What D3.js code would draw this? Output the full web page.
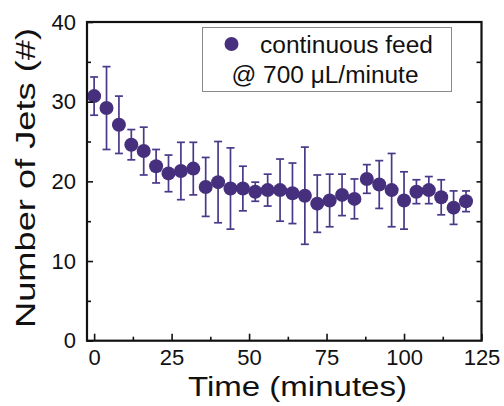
<!DOCTYPE html>
<html>
<head>
<meta charset="utf-8">
<script src="https://cdn.jsdelivr.net/npm/d3@7"></script>
<style>
  body { margin: 0; background: #fff; }
  text { font-family: "Liberation Sans", Arial, sans-serif; fill: #111; }
</style>
</head>
<body>
<svg width="504" height="406"></svg>
<script>
let svg = d3.select("svg")

// time in minutes
let times = [0, 4, 8, 12, 16, 20, 24, 28, 32, 36, 40, 44, 48, 52, 56, 60,
             64, 68, 72, 76, 80, 84, 88, 92, 96, 100, 104, 108, 112, 116, 120]
// number of jets (mean)
let jets = [30.7, 29.2, 27.1, 24.6, 23.8, 21.9, 21.0, 21.3, 21.6, 19.3, 19.9,
            19.1, 19.1, 18.7, 18.9, 18.9, 18.5, 18.2, 17.2, 17.6, 18.3, 17.8,
            20.3, 19.6, 18.9, 17.6, 18.7, 18.9, 18.0, 16.7, 17.5]
// error bar half-lengths
let errs = [2.4, 5.2, 3.6, 1.9, 3.0, 2.1, 2.3, 3.6, 3.3, 3.7, 5.1, 5.1, 2.8,
            1.2, 2.0, 3.9, 3.8, 6.1, 3.6, 3.3, 2.6, 2.5, 1.8, 3.0, 4.6, 3.6,
            1.5, 1.7, 2.2, 2.1, 1.3]

let xMajor = [0, 25, 50, 75, 100, 125]
let xMinor = [12.5, 37.5, 62.5, 87.5, 112.5]
let yMajor = [0, 10, 20, 30, 40]
let yMinor = [5, 15, 25, 35]
let yRight = [5, 10, 15, 20, 25, 30, 35]

let legendLines = ["continuous feed", "@ 700 \u03bcL/minute"]

let pLeft = 87, pRight = 481.5, pTop = 22, pBottom = 340.7
let purple = "#46307e"

let x = d3.scaleLinear().domain([-2.3, 125]).range([pLeft, pRight])
let y = d3.scaleLinear().domain([0, 40]).range([pBottom, pTop])

let points = times.map((t, i) => ({t: t, v: jets[i], e: errs[i]}))

// error bars
let bars = svg.append("g")
  .attr("stroke", "#4a3889")
  .attr("stroke-width", 1.7)
  .attr("fill", "none")

bars.selectAll("line.stem")
  .data(points).enter()
  .append("line")
  .attr("x1", d => x(d.t)).attr("x2", d => x(d.t))
  .attr("y1", d => y(d.v - d.e)).attr("y2", d => y(d.v + d.e))

bars.selectAll("line.cap-hi")
  .data(points).enter()
  .append("line")
  .attr("x1", d => x(d.t) - 4).attr("x2", d => x(d.t) + 4)
  .attr("y1", d => y(d.v + d.e)).attr("y2", d => y(d.v + d.e))

bars.selectAll("line.cap-lo")
  .data(points).enter()
  .append("line")
  .attr("x1", d => x(d.t) - 4).attr("x2", d => x(d.t) + 4)
  .attr("y1", d => y(d.v - d.e)).attr("y2", d => y(d.v - d.e))

svg.append("g").selectAll("circle")
  .data(points).enter()
  .append("circle")
  .attr("cx", d => x(d.t))
  .attr("cy", d => y(d.v))
  .attr("r", 7)
  .style("fill", purple)

// axes (ticks inward)
let addAxis = (axis, transform) => {
  let g = svg.append("g").attr("transform", transform).call(axis)
  g.select(".domain").remove()
  g.selectAll(".tick line").attr("stroke", "#111").attr("stroke-width", 1.6)
  g.selectAll(".tick text").style("font-size", "22px").attr("fill", "#111")
  return g
}

addAxis(d3.axisBottom(x).tickValues(xMajor).tickSize(-7).tickPadding(9), `translate(0,${pBottom})`)
addAxis(d3.axisBottom(x).tickValues(xMinor).tickSize(-4).tickFormat(""), `translate(0,${pBottom})`)
addAxis(d3.axisLeft(y).tickValues(yMajor).tickSize(-6).tickPadding(11), `translate(${pLeft},0)`)
addAxis(d3.axisLeft(y).tickValues(yMinor).tickSize(-4).tickFormat(""), `translate(${pLeft},0)`)
addAxis(d3.axisRight(y).tickValues(yRight).tickSize(-5).tickFormat(""), `translate(${pRight},0)`)

// frame
svg.append("rect")
  .attr("x", pLeft).attr("y", pTop)
  .attr("width", pRight - pLeft).attr("height", pBottom - pTop)
  .attr("fill", "none").attr("stroke", "#111").attr("stroke-width", 2.2)

// axis titles
svg.append("text")
  .attr("x", 297.5).attr("y", 396)
  .attr("text-anchor", "middle")
  .attr("textLength", 219).attr("lengthAdjust", "spacingAndGlyphs")
  .style("font-size", "27px")
  .text("Time (minutes)")

svg.append("text")
  .attr("transform", "translate(35,178) rotate(-90)")
  .attr("text-anchor", "middle")
  .attr("textLength", 300).attr("lengthAdjust", "spacingAndGlyphs")
  .style("font-size", "27px")
  .text("Number of Jets (#)")

// legend
let lg = svg.append("g")
lg.append("rect")
  .attr("x", 202.5).attr("y", 27.5).attr("width", 249).attr("height", 64)
  .attr("fill", "#fff").attr("stroke", "#8a8a8a").attr("stroke-width", 1)
lg.append("circle").attr("cx", 231.5).attr("cy", 44).attr("r", 7).style("fill", purple)
lg.append("text").attr("x", 260).attr("y", 53)
  .attr("textLength", 173).attr("lengthAdjust", "spacingAndGlyphs")
  .style("font-size", "23px").text(legendLines[0])
lg.append("text").attr("x", 231.5).attr("y", 83)
  .attr("textLength", 187).attr("lengthAdjust", "spacingAndGlyphs")
  .style("font-size", "23px").text(legendLines[1])
</script>
</body>
</html>
